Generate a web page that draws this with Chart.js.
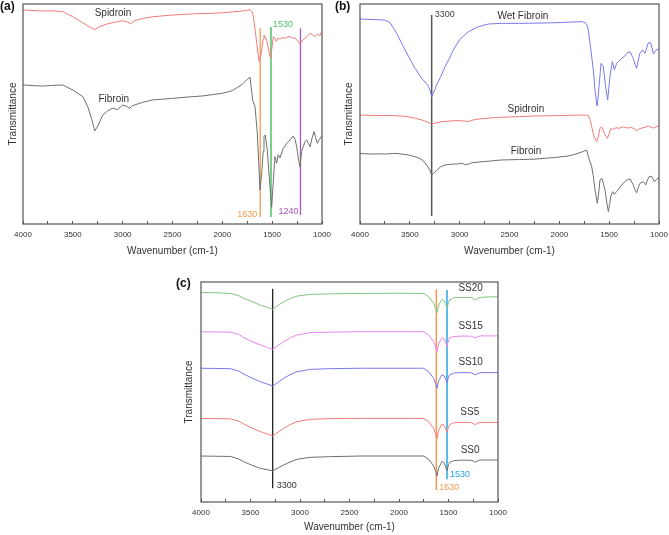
<!DOCTYPE html>
<html>
<head>
<meta charset="utf-8">
<script src="https://cdn.jsdelivr.net/npm/chart.js@4.4.0/dist/chart.umd.min.js"></script>
<style>
  body { margin: 0; background: #fff; width: 669px; height: 535px; position: relative; overflow: hidden;
         font-family: "Liberation Sans", Arial, sans-serif; }
  canvas { position: absolute; }
  .tag { position: absolute; font-weight: bold; font-size: 12px; color: #111; line-height: 12px; }
</style>
</head>
<body>
<canvas id="chartA" width="335" height="257" style="left:0;top:0"></canvas>
<canvas id="chartB" width="334" height="257" style="left:335px;top:0"></canvas>
<canvas id="chartC" width="420" height="285" style="left:160px;top:250px"></canvas>
<div class="tag" style="left:0;top:0">(a)</div>
<div class="tag" style="left:335px;top:0">(b)</div>
<div class="tag" style="left:176px;top:277px">(c)</div>
<script>
// ---- panel (a): Spidroin / Fibroin
const wnSpidroinA = [4000,3900,3800,3700,3600,3500,3400,3330,3280,3230,3150,3100,3050,3000,2950,2920,2880,2800,2700,2600,
  2500,2300,2100,2000,1900,1800,1760,1722,1700,1689,1670,1655,1640,1629,1615,1605,1590,1582,1570,1556,
  1540,1528,1515,1505,1488,1470,1455,1440,1422,1400,1372,1350,1321,1300,1271,1245,1221,1200,1171,1145,
  1120,1095,1070,1050,1037,1020,1003];
const tSpidroinA = [97.3,97.0,96.8,96.9,96.5,94.2,91.5,89.5,88.3,89.8,91.0,91.5,92.0,92.4,91.8,91.0,92.5,93.4,94.2,94.6,
  95.0,95.5,95.8,96.0,96.4,96.8,97.1,97.3,96.5,94.2,88.0,82.1,77.0,73.8,76.5,79.0,84.0,85.9,85.0,83.6,
  80.5,77.0,75.3,79.0,85.2,84.0,83.0,84.5,84.0,84.8,84.4,85.0,85.2,84.5,84.6,83.2,81.8,83.2,84.4,85.5,
  86.7,86.0,85.2,86.0,86.3,85.6,87.6];
const wnFibroinA = [4000,3900,3800,3700,3600,3500,3400,3350,3310,3280,3250,3200,3150,3100,3050,3000,2960,2930,2900,2800,
  2700,2500,2350,2200,2000,1900,1850,1800,1756,1722,1710,1696,1672,1649,1635,1622,1605,1590,1582,1569,
  1549,1535,1522,1505,1488,1472,1455,1439,1422,1388,1355,1321,1288,1270,1254,1235,1221,1205,1188,1170,
  1154,1135,1120,1100,1080,1065,1047,1025,1003];
const tFibroinA = [63.2,62.9,62.7,63.0,63.2,60.9,57.9,53.3,47.5,42.3,44.5,49.5,51.5,52.6,52.0,54.1,53.5,52.6,53.8,55.3,
  56.4,57.1,57.7,58.2,59.4,60.6,62.0,63.5,65.5,66.7,62.0,56.4,53.3,41.3,28.0,15.5,23.0,33.0,39.7,40.5,
  33.6,25.0,17.0,7.6,20.0,30.6,27.6,31.5,30.0,34.4,36.5,38.2,40.0,38.5,35.1,29.0,26.0,33.0,35.1,37.5,
  38.2,36.5,35.1,39.0,42.0,39.5,36.7,38.5,40.0];
const markWnA = [1620, 1512, 1216];
const markTopA = [89.0, 89.5, 89.0];
const markBotA = [3.2, 3.2, 4.0];

// ---- panel (b): Wet Fibroin / Spidroin / Fibroin
const wnWetB = [4000,3900,3800,3749,3699,3632,3548,3448,3381,3321,3295,3281,3255,3231,3190,3147,3100,3064,2997,2913,
  2813,2712,2579,2400,2244,2100,1910,1776,1742,1726,1709,1692,1675,1659,1642,1625,1619,1599,1582,1559,
  1535,1515,1492,1468,1448,1425,1400,1375,1350,1324,1291,1258,1240,1224,1205,1191,1164,1141,1120,1107,
  1084,1070,1057,1030,1007,1000];
const tWetB = [93.2,93.0,92.8,92.7,91.5,86.7,79.1,70.8,66.2,63.2,60.5,57.9,60.5,63.2,67.0,71.5,75.5,79.1,84.0,87.4,
  89.7,90.9,91.2,91.2,91.3,91.4,91.7,92.0,91.5,90.9,88.2,82.1,76.0,70.0,60.9,54.5,53.6,64.0,73.0,71.5,
  62.4,56.4,67.0,73.8,70.0,73.0,74.0,75.3,76.0,77.6,78.3,75.3,72.5,70.8,75.0,77.6,79.1,77.6,80.5,82.4,
  82.4,80.0,77.3,79.0,79.4,79.6];
const wnSpidroinB = [4000,3900,3800,3700,3582,3500,3440,3381,3320,3281,3230,3181,3100,3000,2913,2850,2746,2600,2400,2244,
  2000,1800,1743,1709,1690,1675,1652,1625,1605,1592,1575,1549,1518,1500,1485,1465,1452,1430,1408,1380,
  1358,1330,1308,1280,1258,1240,1224,1200,1174,1140,1107,1080,1057,1030,1007,1000];
const tSpidroinB = [49.5,49.4,49.3,49.3,49.1,48.6,48.0,47.3,46.3,45.5,46.0,46.5,46.8,47.0,46.6,47.5,48.0,48.5,48.8,49.1,
  49.3,49.5,49.5,49.4,47.0,44.2,39.7,37.4,40.5,43.5,44.2,41.2,38.9,41.0,43.5,43.0,43.2,43.8,43.5,43.8,
  44.2,43.8,43.6,43.9,43.5,43.0,42.3,43.2,43.6,44.0,44.5,44.0,43.6,44.2,44.5,44.6];
const wnFibroinB = [4000,3900,3800,3749,3649,3580,3515,3450,3398,3360,3331,3300,3281,3250,3231,3190,3147,3080,3020,2980,
  2940,2913,2880,2846,2700,2579,2400,2244,2050,1910,1850,1793,1760,1726,1710,1699,1675,1660,1642,1619,
  1605,1592,1575,1558,1542,1525,1508,1495,1485,1465,1448,1425,1400,1375,1350,1324,1291,1258,1240,1224,
  1205,1191,1157,1134,1120,1100,1074,1060,1047,1025,1007,1000];
const tFibroinB = [32.1,31.8,31.9,31.8,32.1,31.8,31.4,30.6,29.8,28.5,26.8,24.5,22.3,23.5,24.5,26.0,26.8,27.2,27.3,27.6,
  27.0,27.2,27.8,28.0,28.6,29.1,29.3,29.5,30.2,30.9,31.6,32.4,33.0,33.6,31.0,29.1,26.0,22.0,15.5,9.4,
  14.0,20.0,20.8,18.5,15.5,10.0,5.6,9.0,12.4,14.7,13.5,14.8,16.2,17.7,19.0,20.0,20.5,17.7,15.5,14.2,
  17.0,18.5,19.2,17.8,19.5,21.5,21.7,20.5,19.2,20.3,21.0,21.2];
const markWnB = [3281];
const markTopB = [95.0];
const markBotB = [3.6];

// ---- panel (c): SS0 .. SS20
const wnC = [4000,3850,3704,3620,3569,3490,3401,3330,3276,3220,3165,3100,3030,2896,2700,2391,2000,1751,1700,1650,
  1630,1616,1600,1566,1545,1532,1515,1500,1488,1448,1380,1279,1250,1229,1200,1178,1100,1000];
const tSS20 = [95.2,95.1,94.8,93.8,92.6,91.2,89.5,88.5,87.6,89.5,91.0,92.5,93.6,94.4,94.6,94.8,94.9,94.8,93.3,90.3,
  88.0,86.0,89.5,92.1,91.6,90.3,88.5,90.5,91.8,92.9,93.0,93.0,92.6,91.8,92.6,93.0,93.2,93.3];
const tSS15 = [77.4,77.3,77.2,76.2,74.8,73.0,71.4,70.3,69.4,71.2,72.9,74.6,75.9,77.0,77.2,77.4,77.4,77.4,75.9,72.9,
  70.5,68.3,71.8,74.7,74.2,72.9,70.6,73.5,74.7,75.2,75.4,75.4,75.0,74.5,75.2,75.5,75.5,75.5];
const tSS10 = [60.8,60.7,60.6,59.5,58.2,56.4,54.7,53.6,52.7,54.5,56.2,57.9,59.2,60.3,60.6,60.8,60.8,60.8,59.2,56.2,
  53.8,51.7,55.1,57.8,57.4,56.2,54.2,56.8,57.8,58.6,58.8,58.8,58.3,57.8,58.5,58.8,58.8,58.8];
const tSS5 = [38.0,37.9,37.8,36.8,35.5,33.7,32.0,30.9,30.0,31.8,33.5,35.2,36.5,37.6,37.9,38.0,38.0,38.0,36.5,33.5,
  31.0,28.9,32.5,35.4,34.9,33.5,31.7,34.2,35.2,36.0,36.2,36.2,35.7,35.2,35.9,36.2,36.2,36.2];
const tSS0 = [20.9,20.8,20.7,19.6,18.3,16.8,15.3,14.7,14.2,15.5,16.8,18.2,19.4,20.3,20.6,20.9,20.9,20.9,19.4,16.4,
  14.0,11.8,15.4,18.4,17.9,16.4,14.2,16.9,17.9,18.8,19.0,19.0,18.6,18.1,18.8,19.1,19.1,19.1];
const markWnC = [3276, 1623, 1515];
const markTopC = [96.9, 96.7, 96.4];
const markBotC = [6.2, 5.5, 10.3];

const FONT = '"Liberation Sans", Arial, sans-serif';
const RED = '#f27a7a', GREY = '#6f6f6f', BLUE = '#7878ee', PINK = '#ec84f0', GREEN = '#80c47f';
const ORANGE = '#f79a4e', MINT = '#79cf8c', PURPLE = '#a955bd', CYAN = '#2ba6e0';

Chart.defaults.font.family = FONT;

function curve(xs, ys, color) {
  return { data: xs.map((x, i) => ({x: x, y: ys[i]})), borderColor: color, borderWidth: 1,
           pointRadius: 0, tension: 0, fill: false };
}
function marks(xs, tops, bots, colors, widths) {
  return xs.map((x, i) => ({ data: [{x: x, y: tops[i]}, {x: x, y: bots[i]}], borderColor: colors[i],
           borderWidth: widths[i], pointRadius: 0, fill: false }));
}

// frame around the plot area + text notes placed in data coordinates
const notes = {
  id: 'notes',
  afterDatasetsDraw(chart, args, opts) {
    const {ctx, chartArea: a} = chart;
    const sx = chart.scales.x, sy = chart.scales.y;
    ctx.save();
    ctx.strokeStyle = '#555';
    ctx.lineWidth = 1.2;
    ctx.strokeRect(a.left, a.top, a.right - a.left, a.bottom - a.top);
    for (const n of opts.items || []) {
      ctx.font = (n.size || 10) + 'px ' + FONT;
      ctx.fillStyle = n.color || '#333';
      ctx.textAlign = n.align || 'center';
      ctx.textBaseline = 'middle';
      ctx.fillText(n.text, sx.getPixelForValue(n.wn) + (n.dx || 0), sy.getPixelForValue(n.val));
    }
    ctx.restore();
  }
};

function makeChart(id, datasets, items, yWidth, xHeight, pad) {
  new Chart(document.getElementById(id), {
    type: 'line',
    data: { datasets: datasets },
    options: {
      responsive: false,
      animation: false,
      layout: { padding: pad },
      plugins: { legend: { display: false }, tooltip: { enabled: false }, notes: { items: items } },
      scales: {
        x: {
          type: 'linear', reverse: true, min: 1000, max: 4000,
          border: { display: false },
          grid: { drawOnChartArea: false, drawTicks: true, tickLength: -3, color: '#555' },
          ticks: { stepSize: 250, autoSkip: false, maxRotation: 0, padding: 9, color: '#333',
                   font: { size: 8 }, callback: v => (v % 500 === 0 ? String(v) : '') },
          title: { display: true, text: 'Wavenumber (cm-1)', color: '#333', font: { size: 10 }, padding: 0 },
          afterFit: s => { s.height = xHeight; s.paddingLeft = 0; s.paddingRight = 0; }
        },
        y: {
          min: 0, max: 100,
          border: { display: false },
          grid: { display: false },
          ticks: { display: false },
          title: { display: true, text: 'Transmittance', color: '#333', font: { size: 10 }, padding: 0 },
          afterFit: s => { s.width = yWidth; s.paddingTop = 0; s.paddingBottom = 0; }
        }
      }
    },
    plugins: [notes]
  });
}

makeChart('chartA',
  [curve(wnSpidroinA, tSpidroinA, RED), curve(wnFibroinA, tFibroinA, GREY)]
    .concat(marks(markWnA, markTopA, markBotA, [ORANGE, MINT, PURPLE], [1.3, 2, 1.3])),
  [
    { text: 'Spidroin', wn: 3097, val: 95.9 },
    { text: 'Fibroin', wn: 3090, val: 56.8 },
    { text: '1530', wn: 1512, dx: 2, val: 90.9, color: '#4fc06a', align: 'left', size: 9 },
    { text: '1630', wn: 1620, dx: -3, val: 4.5, color: ORANGE, align: 'right', size: 9 },
    { text: '1240', wn: 1216, dx: -2, val: 5.9, color: PURPLE, align: 'right', size: 9 }
  ], 16, 33, { left: 7, top: 4, right: 13, bottom: 0 });

makeChart('chartB',
  [curve(wnWetB, tWetB, BLUE), curve(wnSpidroinB, tSpidroinB, RED), curve(wnFibroinB, tFibroinB, GREY)]
    .concat(marks(markWnB, markTopB, markBotB, ['#555'], [1.5])),
  [
    { text: 'Wet Fibroin', wn: 2365, val: 94.5 },
    { text: 'Spidroin', wn: 2335, val: 52.3 },
    { text: 'Fibroin', wn: 2335, val: 33.2 },
    { text: '3300', wn: 3281, dx: 3, val: 95.0, color: '#444', align: 'left', size: 9 }
  ], 17, 33, { left: 8, top: 4, right: 10, bottom: 0 });

makeChart('chartC',
  [curve(wnC, tSS20, GREEN), curve(wnC, tSS15, PINK), curve(wnC, tSS10, BLUE),
   curve(wnC, tSS5, RED), curve(wnC, tSS0, GREY)]
    .concat(marks(markWnC, markTopC, markBotC, ['#222', ORANGE, CYAN], [1.3, 1.5, 1.5])),
  [
    { text: 'SS20', wn: 1276, val: 97.3 },
    { text: 'SS15', wn: 1276, val: 80.0 },
    { text: 'SS10', wn: 1276, val: 63.3 },
    { text: 'SS5', wn: 1285, val: 41.0 },
    { text: 'SS0', wn: 1282, val: 23.6 },
    { text: '3300', wn: 3276, dx: 4, val: 7.7, color: '#333', align: 'left', size: 9 },
    { text: '1630', wn: 1623, dx: 3, val: 6.8, color: ORANGE, align: 'left', size: 9 },
    { text: '1530', wn: 1515, dx: 3, val: 12.3, color: CYAN, align: 'left', size: 9 }
  ], 18, 31, { left: 23, top: 32, right: 82, bottom: 2 });
</script>
</body>
</html>
